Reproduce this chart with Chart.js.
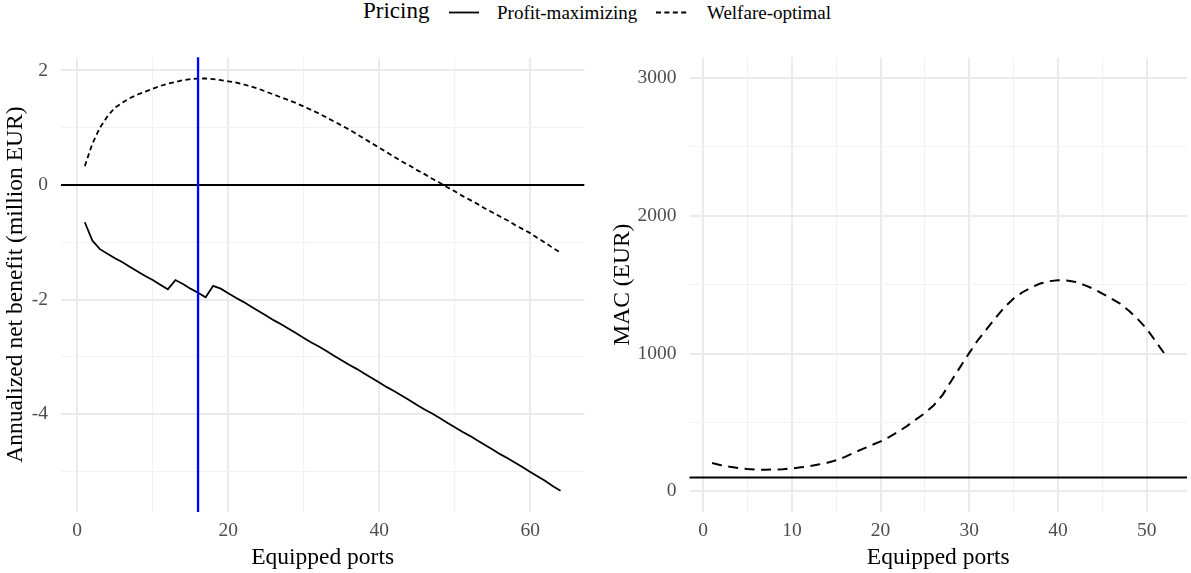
<!DOCTYPE html>
<html><head><meta charset="utf-8">
<script src="https://cdn.jsdelivr.net/npm/chart.js@4.4.1/dist/chart.umd.min.js"></script>
<style>
html,body{margin:0;padding:0;background:#fff;}
body{width:1191px;height:573px;position:relative;overflow:hidden;font-family:"Liberation Serif","Times New Roman",serif;}
#c1{position:absolute;left:0;top:40px;}
#c2{position:absolute;left:590px;top:40px;}
.lg{position:absolute;white-space:nowrap;line-height:1;color:#000;}
</style></head><body>
<div class="lg" style="left:363px;top:-1px;font-size:23px;">Pricing</div>
<svg style="position:absolute;left:449px;top:6px" width="32" height="14"><line x1="0" y1="6.5" x2="30" y2="6.5" stroke="#000" stroke-width="1.8"/></svg>
<div class="lg" style="left:497px;top:2.5px;font-size:19px;">Profit-maximizing</div>
<svg style="position:absolute;left:656px;top:6px" width="33" height="14"><line x1="0" y1="6.5" x2="31" y2="6.5" stroke="#000" stroke-width="1.8" stroke-dasharray="5 3.4"/></svg>
<div class="lg" style="left:707px;top:2.5px;font-size:19px;">Welfare-optimal</div>
<canvas id="c1" width="590" height="533"></canvas>
<canvas id="c2" width="601" height="533"></canvas>
<script>
// ---------- data ----------
const ports = [1,2,3,4,5,6,7,8,9,10,11,12,13,14,15,16,17,18,19,20,21,22,23,24,25,26,27,28,29,30,31,32,33,34,35,36,37,38,39,40,41,42,43,44,45,46,47,48,49,50,51,52,53,54,55,56,57,58,59,60,61,62,63,64];
const profitMaximizing = [-0.65,-0.97,-1.12,-1.20,-1.28,-1.35,-1.43,-1.51,-1.59,-1.66,-1.74,-1.82,-1.66,-1.73,-1.81,-1.88,-1.96,-1.76,-1.81,-1.89,-1.97,-2.04,-2.12,-2.20,-2.28,-2.36,-2.43,-2.51,-2.59,-2.67,-2.75,-2.82,-2.90,-2.98,-3.06,-3.14,-3.21,-3.29,-3.37,-3.45,-3.53,-3.60,-3.68,-3.76,-3.84,-3.92,-3.99,-4.07,-4.15,-4.23,-4.31,-4.38,-4.46,-4.54,-4.62,-4.70,-4.77,-4.85,-4.93,-5.01,-5.09,-5.17,-5.26,-5.34];
const welfareOptimal = [0.33,0.72,1.00,1.20,1.35,1.44,1.52,1.58,1.63,1.68,1.73,1.77,1.80,1.83,1.85,1.86,1.86,1.85,1.83,1.81,1.79,1.76,1.72,1.68,1.63,1.58,1.53,1.48,1.43,1.37,1.31,1.25,1.18,1.11,1.04,0.97,0.89,0.81,0.73,0.65,0.57,0.49,0.41,0.34,0.26,0.19,0.11,0.04,-0.04,-0.11,-0.19,-0.26,-0.33,-0.41,-0.48,-0.55,-0.62,-0.70,-0.77,-0.84,-0.93,-1.01,-1.10,-1.18];
const macPorts = [1,2,3,4,5,6,7,8,9,10,11,12,13,14,15,16,17,18,19,20,21,22,23,24,25,26,27,28,29,30,31,32,33,34,35,36,37,38,39,40,41,42,43,44,45,46,47,48,49,50,51,52];
const macValues = [205,190,178,169,162,158,157,158,161,166,174,183,195,208,225,250,280,308,336,362,395,433,475,522,568,625,700,805,905,1005,1100,1180,1262,1338,1400,1445,1480,1508,1525,1532,1530,1520,1497,1470,1435,1400,1363,1310,1250,1180,1090,1000];
const optimalPorts = 16;
const zeroLevel = 0;
const macReference = 100;

// ---------- axes ----------
const leftXTicks = [0,10,20,30,40,50,60];
const leftXLabels = [0,20,40,60];
const leftYTicks = [-5,-4,-3,-2,-1,0,1,2];
const leftYLabels = [-4,-2,0,2];
const rightXTicks = [0,5,10,15,20,25,30,35,40,45,50];
const rightXLabels = [0,10,20,30,40,50];
const rightYTicks = [0,500,1000,1500,2000,2500,3000];
const rightYLabels = [0,1000,2000,3000];
const leftXRange = [-2.15, 67.15];
const leftYRange = [-5.71, 2.23];
const rightXRange = [-1.55, 54.55];
const rightYRange = [-150, 3150];

const FONT = "'Liberation Serif','Times New Roman',serif";
const TICK_COLOR = '#4D4D4D';

const refLines = {
  id: 'refLines',
  beforeDatasetsDraw(chart, args, opts) {
    const {ctx, chartArea: a, scales: {y}} = chart;
    ctx.save();
    (opts.h || []).forEach(h => {
      const py = y.getPixelForValue(h.value);
      ctx.strokeStyle = h.color; ctx.lineWidth = h.width;
      ctx.beginPath(); ctx.moveTo(a.left, py); ctx.lineTo(a.right, py); ctx.stroke();
    });
    ctx.restore();
  },
  afterDatasetsDraw(chart, args, opts) {
    const {ctx, chartArea: a, scales: {x}} = chart;
    ctx.save();
    (opts.v || []).forEach(v => {
      const px = x.getPixelForValue(v.value);
      ctx.strokeStyle = v.color; ctx.lineWidth = v.width;
      ctx.beginPath(); ctx.moveTo(px, a.top); ctx.lineTo(px, a.bottom); ctx.stroke();
    });
    ctx.restore();
  }
};

function axis(range, ticks, labels, opt) {
  return {
    type: 'linear',
    min: range[0], max: range[1],
    afterBuildTicks: s => { s.ticks = ticks.map(v => ({value: v})); },
    afterFit: s => {
      opt.fit(s);
      s.paddingTop = 0; s.paddingBottom = 0; s.paddingLeft = 0; s.paddingRight = 0;
    },
    border: {display: false},
    grid: {
      drawTicks: false,
      color: c => labels.includes(c.tick.value) ? '#EBEBEB' : '#F2F2F2',
      lineWidth: c => labels.includes(c.tick.value) ? 2 : 1.1
    },
    ticks: {
      autoSkip: false, maxRotation: 0, padding: opt.tickPad,
      color: TICK_COLOR, font: {family: FONT, size: 19.5},
      callback: v => labels.includes(v) ? String(v) : ''
    },
    title: {
      display: true, text: opt.title, color: '#000',
      font: {family: FONT, size: 23.5}, padding: opt.titlePad
    }
  };
}

function makeChart(id, datasets, xAx, yAx, pad, lines) {
  return new Chart(document.getElementById(id), {
    type: 'line',
    data: {datasets},
    options: {
      responsive: false, animation: false, devicePixelRatio: 1,
      layout: {padding: pad},
      plugins: {legend: {display: false}, tooltip: {enabled: false}, refLines: lines},
      elements: {point: {radius: 0}, line: {tension: 0}},
      scales: {x: xAx, y: yAx}
    },
    plugins: [refLines]
  });
}

makeChart('c1', [
  {data: ports.map((p, i) => ({x: p, y: profitMaximizing[i]})), borderColor: '#000', borderWidth: 1.8, fill: false},
  {data: ports.map((p, i) => ({x: p, y: welfareOptimal[i]})), borderColor: '#000', borderWidth: 1.8, borderDash: [5, 3.4], fill: false}
],
  axis(leftXRange, leftXTicks, leftXLabels, {fit: s => { s.height = 61; }, tickPad: 7, title: 'Equipped ports', titlePad: {top: 0, bottom: 1}}),
  axis(leftYRange, leftYTicks, leftYLabels, {fit: s => { s.width = 61; }, tickPad: 13, title: 'Annualized net benefit (million EUR)', titlePad: {top: 2, bottom: 0}}),
  {left: 0, top: 17.3, right: 5.7, bottom: 0},
  {h: [{value: zeroLevel, color: '#000', width: 2}], v: [{value: optimalPorts, color: '#0000FF', width: 2.3}]}
);

makeChart('c2', [
  {data: macPorts.map((p, i) => ({x: p, y: macValues[i]})), borderColor: '#000', borderWidth: 2, borderDash: [10, 6.5], fill: false}
],
  axis(rightXRange, rightXTicks, rightXLabels, {fit: s => { s.height = 61; }, tickPad: 7, title: 'Equipped ports', titlePad: {top: 0, bottom: 1}}),
  axis(rightYRange, rightYTicks, rightYLabels, {fit: s => { s.width = 99.5; }, tickPad: 13, title: 'MAC (EUR)', titlePad: {top: 18.4, bottom: 0}}),
  {left: 0, top: 17.3, right: 4, bottom: 0},
  {h: [{value: macReference, color: '#000', width: 2}], v: []}
);
</script>
</body></html>
